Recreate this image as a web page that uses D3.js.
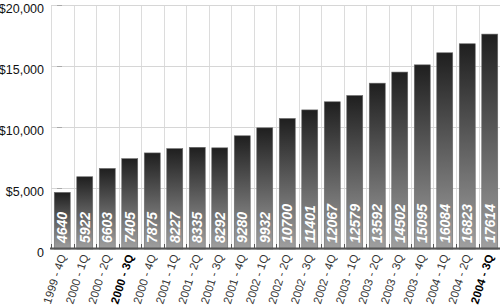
<!DOCTYPE html>
<html>
<head>
<meta charset="utf-8">
<script src="https://cdn.jsdelivr.net/npm/d3@7"></script>
<style>
  body { margin: 0; background: #fff; }
  svg { display: block; }
</style>
</head>
<body>
<svg width="500" height="308"></svg>
<script>
// quarters and revenue
var quarters = ["1999 - 4Q", "2000 - 1Q", "2000 - 2Q", "2000 - 3Q", "2000 - 4Q",
    "2001 - 1Q", "2001 - 2Q", "2001 - 3Q", "2001 - 4Q", "2002 - 1Q", "2002 - 2Q",
    "2002 - 3Q", "2002 - 4Q", "2003 - 1Q", "2003 - 2Q", "2003 - 3Q", "2003 - 4Q",
    "2004 - 1Q", "2004 - 2Q", "2004 - 3Q"];
var values = [4640, 5922, 6603, 7405, 7875, 8227, 8335, 8292, 9280, 9932,
    10700, 11401, 12067, 12579, 13592, 14502, 15095, 16084, 16823, 17614];
var boldLabels = ["2000 - 3Q", "2004 - 3Q"];
var yTicks = [0, 5000, 10000, 15000, 20000];

var data = quarters.map(function (q, i) { return { q: q, v: values[i] }; });

var svg = d3.select("svg");
var plotLeft = 51, plotRight = 501, plotTop = 5, plotBottom = 249;

var xScale = d3.scaleBand().domain(quarters).range([plotLeft, plotRight])
    .paddingInner(0.29).paddingOuter(0.145);
var yScale = d3.scaleLinear().domain([0, 20000]).range([plotBottom, plotTop]);
var gridX = d3.scaleLinear().domain([0, 20]).range([plotLeft, plotRight]);

var defs = svg.append("defs");
var grad = defs.append("linearGradient").attr("id", "barGrad")
    .attr("x1", 0).attr("y1", 0).attr("x2", 0).attr("y2", 1);
grad.append("stop").attr("offset", "0%").attr("stop-color", "#1f1f1f");
grad.append("stop").attr("offset", "100%").attr("stop-color", "#a0a0a0");

// vertical grid
svg.append("g").selectAll("line").data(d3.range(0, 21)).enter().append("line")
    .attr("x1", function (d) { return Math.round(gridX(d)) + 0.5; })
    .attr("x2", function (d) { return Math.round(gridX(d)) + 0.5; })
    .attr("y1", plotTop).attr("y2", plotBottom)
    .attr("stroke", "#dcdcdc").attr("stroke-width", 1);

// horizontal grid
svg.append("g").selectAll("line").data(yTicks).enter().append("line")
    .attr("x1", plotLeft).attr("x2", plotRight)
    .attr("y1", function (d) { return Math.round(yScale(d)) + 0.5; })
    .attr("y2", function (d) { return Math.round(yScale(d)) + 0.5; })
    .attr("stroke", "#d6d6d6").attr("stroke-width", 1);

// small marks on the y grid
svg.append("g").selectAll("line").data(yTicks.slice(1)).enter().append("line")
    .attr("x1", plotLeft + 6).attr("x2", plotLeft + 11)
    .attr("y1", function (d) { return Math.round(yScale(d)) + 0.5; })
    .attr("y2", function (d) { return Math.round(yScale(d)) + 0.5; })
    .attr("stroke", "#aaa");

// y labels
svg.append("g").selectAll("text").data(yTicks).enter().append("text")
    .attr("x", 44)
    .attr("y", function (d) { return yScale(d) + 8; })
    .attr("text-anchor", "end")
    .attr("font-family", "Liberation Sans, Arial, sans-serif")
    .attr("font-size", 12.5)
    .attr("fill", "#111")
    .text(function (d) { return d === 0 ? "0" : "$" + d3.format(",")(d); });

// bars
svg.append("g").selectAll("rect").data(data).enter().append("rect")
    .attr("x", function (d) { return xScale(d.q); })
    .attr("y", function (d) { return yScale(d.v); })
    .attr("width", xScale.bandwidth())
    .attr("height", function (d) { return plotBottom - yScale(d.v); })
    .attr("fill", "url(#barGrad)")
    .attr("stroke", "#6a6a6a").attr("stroke-width", 0.6);

// value labels inside bars
svg.append("g").selectAll("text").data(data).enter().append("text")
    .attr("transform", function (d) {
        return "translate(" + (xScale(d.q) + xScale.bandwidth() / 2 + 5) + "," + (plotBottom - 6) + ") rotate(-90)";
    })
    .attr("font-family", "Liberation Sans, Arial, sans-serif")
    .attr("font-size", 14)
    .attr("font-weight", "bold")
    .attr("font-style", "italic")
    .attr("fill", "#fff")
    .text(function (d) { return d.v; });

// bottom axis line and ticks
svg.append("line").attr("x1", plotLeft - 1).attr("x2", plotRight)
    .attr("y1", plotBottom - 0.5).attr("y2", plotBottom - 0.5)
    .attr("stroke", "#555").attr("stroke-width", 2);
svg.append("g").selectAll("line").data(d3.range(0, 21)).enter().append("line")
    .attr("x1", function (d) { return Math.round(gridX(d)) + 0.5; })
    .attr("x2", function (d) { return Math.round(gridX(d)) + 0.5; })
    .attr("y1", plotBottom - 5).attr("y2", plotBottom)
    .attr("stroke", "#555").attr("stroke-width", 1);

// category labels
svg.append("g").selectAll("text").data(data).enter().append("text")
    .attr("transform", function (d) {
        return "translate(" + (xScale(d.q) + xScale.bandwidth() / 2 + 4) + "," + (plotBottom + 7) + ") rotate(-72)";
    })
    .attr("text-anchor", "end")
    .attr("font-family", "Liberation Sans, Arial, sans-serif")
    .attr("font-size", 11.5)
    .attr("font-weight", function (d) { return boldLabels.indexOf(d.q) >= 0 ? "bold" : "normal"; })
    .attr("fill", function (d) { return boldLabels.indexOf(d.q) >= 0 ? "#000" : "#333"; })
    .text(function (d) { return d.q; });
</script>
</body>
</html>
